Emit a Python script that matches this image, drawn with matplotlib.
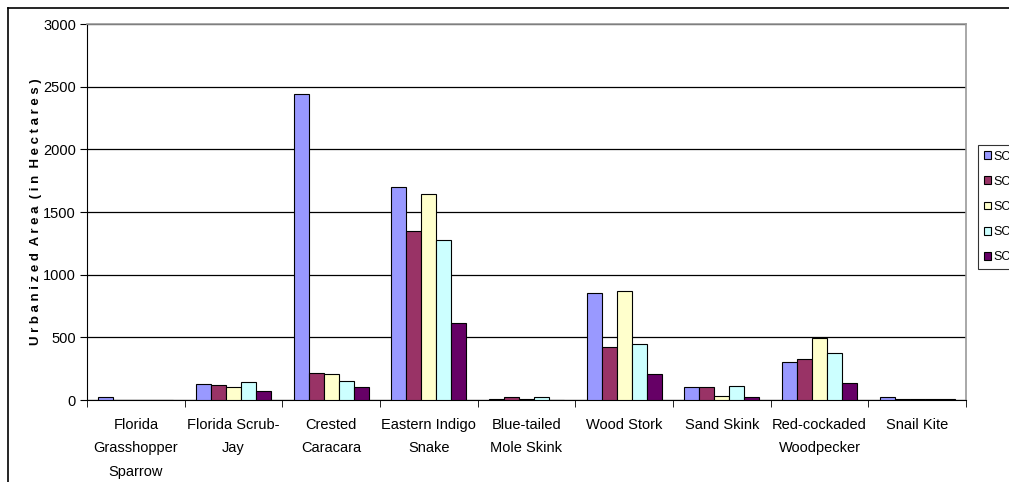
import numpy as np
import matplotlib
matplotlib.use("Agg")
from matplotlib import pyplot as plt
from matplotlib.lines import Line2D

plt.rcParams['font.family'] = ['Liberation Sans', 'DejaVu Sans']

categories = ["Florida\nGrasshopper\nSparrow", "Florida Scrub-\nJay", "Crested\nCaracara",
              "Eastern Indigo\nSnake", "Blue-tailed\nMole Skink", "Wood Stork",
              "Sand Skink", "Red-cockaded\nWoodpecker", "Snail Kite"]
series_names = ["SC", "SC", "SC", "SC", "SC"]
sc1 = [25, 130, 2440, 1700, 8, 855, 100, 300, 25]
sc2 = [0, 120, 215, 1350, 22, 420, 100, 325, 8]
sc3 = [0, 105, 205, 1640, 8, 870, 35, 495, 8]
sc4 = [0, 145, 155, 1275, 22, 450, 110, 375, 8]
sc5 = [0, 75, 105, 615, 0, 210, 20, 135, 8]
series = [sc1, sc2, sc3, sc4, sc5]
colors = ["#9999FF", "#993366", "#FFFFCC", "#CCFFFF", "#660066"]

fig = plt.figure(figsize=(10.09, 4.82), dpi=100)
ax = fig.add_axes([87/1009, 82/482, 879/1009, 376/482])

x = np.arange(len(categories))
w = 0.154
for i, (vals, c, name) in enumerate(zip(series, colors, series_names)):
    ax.bar(x + (i - 2) * w, vals, width=w, color=c, edgecolor="black",
           linewidth=0.8, label=name, zorder=3)

ax.set_xlim(-0.5, len(categories) - 0.5)
ax.set_ylim(0, 3000)
ax.set_yticks(range(0, 3001, 500))
ax.yaxis.grid(True, color="black", linewidth=0.9, zorder=0)
ax.set_axisbelow(True)

ax.set_xticks(x)
ax.set_xticklabels(categories, fontsize=10.5, linespacing=1.85)
ax.set_xticks(np.arange(-0.5, len(categories)), minor=True)
ax.tick_params(axis="x", which="major", length=0, pad=13)
ax.tick_params(axis="x", which="minor", length=5, direction="out", color="black")
ax.tick_params(axis="y", length=5, direction="out", labelsize=10.5, pad=3)

for s in ["top", "right"]:
    ax.spines[s].set_color("#999999")
    ax.spines[s].set_linewidth(1.2)
ax.spines["left"].set_color("black")
ax.spines["bottom"].set_color("black")

ax.set_ylabel("U r b a n i z e d  A r e a  ( i n  H e c t a r e s )",
              fontsize=9.5, fontweight="bold", labelpad=1)

# outer chart border (cut by the image edge)
fig.add_artist(Line2D([8/1009, 8/1009], [0, 1 - 8/482], color="black", lw=1.2,
                      transform=fig.transFigure))
fig.add_artist(Line2D([8/1009, 1], [1 - 8/482, 1 - 8/482], color="black", lw=1.2,
                      transform=fig.transFigure))

leg = fig.legend(loc="upper left", bbox_to_anchor=(978/1009, 1 - 145/482),
                 fontsize=9, frameon=True, fancybox=False, edgecolor="black",
                 handlelength=0.6, handleheight=0.6, handletextpad=0.15,
                 labelspacing=1.05, borderpad=0.45, borderaxespad=0)
leg.get_frame().set_linewidth(0.8)

fig.savefig("out.png", dpi=100)
